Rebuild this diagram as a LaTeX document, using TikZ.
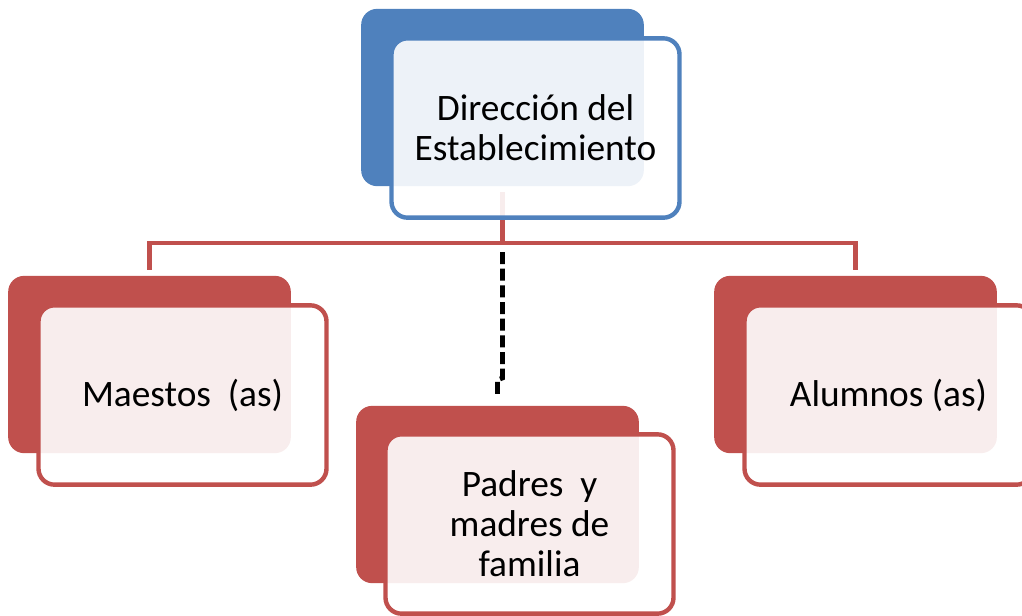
\documentclass[tikz,border=0pt]{standalone}
\usepackage{fontspec}
\setmainfont{Carlito}
\usetikzlibrary{calc}
\definecolor{acblue}{HTML}{4F81BD}
\definecolor{acred}{HTML}{C0504D}
\pgfdeclarelayer{back}
\pgfsetlayers{back,main}

\begin{document}
\begin{tikzpicture}[x=0.75pt, y=-0.75pt,
	every node/.style={font=\fontsize{28}{30}\selectfont, align=center, inner sep=0pt},
	backbox/.style={rounded corners=12pt, minimum width=212pt, minimum height=133pt},
	frontbox/.style={rounded corners=12pt, line width=3.3pt, fill=white, fill opacity=0.9, text opacity=1,
		minimum width=216pt, minimum height=134.5pt},
	link/.style={acred, line width=3.5pt},
	dashlink/.style={black, line width=3.5pt, dash pattern=on 9pt off 3.5pt}]
	
	\useasboundingbox (0,0) rectangle (1022,615);
	
	% back boxes
	\node[backbox, fill=acblue] (topback) at (502.5,97.5) {};
	\node[backbox, fill=acred] (maestosback) at (149.5,364.5) {};
	\node[backbox, fill=acred] (padresback) at (497.5,494.5) {};
	\node[backbox, fill=acred] (alumnosback) at (855.5,364.5) {};
	
	% front boxes with the texts
	\node[frontbox, draw=acblue] (top) at (535.5,128) {Dirección del\\Establecimiento};
	\node[frontbox, draw=acred] (maestos) at (182.5,395) {Maestos\ \ (as)};
	\node[frontbox, draw=acred] (padres) at (529.5,524) {Padres\ \ y\\madres de\\familia};
	\node[frontbox, draw=acred] (alumnos) at (888.5,395) {Alumnos (as)};
	
	\coordinate (bus) at (0,243);
	\coordinate (jog) at (0,380);
	\coordinate (dashend) at ($(padresback.north)+(0,-11)$);
	
	\begin{pgfonlayer}{back}
		\draw[link] ($(topback.south)+(0,6)$) -- (topback.south |- bus);
		\draw[link] ($(maestosback.north)+(0,-6)$) -- (maestosback.north |- bus)
			-- (alumnosback.north |- bus) -- ($(alumnosback.north)+(0,-6)$);
	\end{pgfonlayer}
	
	\draw[dashlink] ($(topback.south |- bus)+(0,9)$) -- ($(topback.south |- jog)+(0,-2)$)
		-- (dashend |- jog) -- (dashend);
\end{tikzpicture}
\end{document}
